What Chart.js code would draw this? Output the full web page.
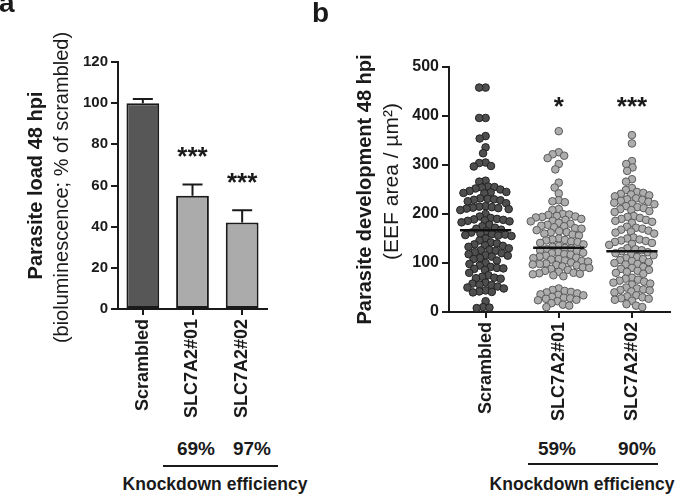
<!DOCTYPE html>
<html>
<head>
<meta charset="utf-8">
<script src="https://cdn.jsdelivr.net/npm/chart.js@4.4.0/dist/chart.umd.min.js"></script>
<style>
  body { margin: 0; background: #fff; width: 675px; height: 496px; position: relative; overflow: hidden;
         font-family: "Liberation Sans", Arial, sans-serif; color: #1a1a1a; }
  .lbl { position: absolute; font-weight: bold; white-space: nowrap; line-height: 1; }
  .mid { transform: translateX(-50%); }
  .rule { position: absolute; height: 2px; background: #1a1a1a; }
  canvas { position: absolute; top: 0; }
</style>
</head>
<body>
<canvas id="loadChart" width="300" height="430" style="left:0"></canvas>
<canvas id="devChart" width="345" height="430" style="left:330px"></canvas>

<div class="lbl" style="left:-1px; top:-11px; font-size:28px">a</div>
<div class="lbl" style="left:312px; top:-1px; font-size:28px">b</div>

<div class="lbl mid" style="left:196px; top:439px; font-size:19px">69%</div>
<div class="lbl mid" style="left:252px; top:439px; font-size:19px">97%</div>
<div class="rule" style="left:163px; top:465px; width:115px"></div>
<div class="lbl mid" style="left:215px; top:476px; font-size:17.5px">Knockdown efficiency</div>

<div class="lbl mid" style="left:557px; top:439px; font-size:19px">59%</div>
<div class="lbl mid" style="left:637px; top:439px; font-size:19px">90%</div>
<div class="rule" style="left:528px; top:463px; width:130px"></div>
<div class="lbl mid" style="left:582px; top:476px; font-size:17.5px">Knockdown efficiency</div>

<script>
// panel a: parasite load (% of scrambled)
const groups = ['Scrambled', 'SLC7A2#01', 'SLC7A2#02'];
const loadMeans = [100, 55, 42];
const loadErrors = [2, 5.5, 6];
const loadStars = ['', '***', '***'];

// panel b: EEF area per parasite (µm²)
const devScrambled = [
    458, 458, 396, 396, 359, 354, 336, 324, 305, 304, 298, 297, 268, 266, 256, 255, 254, 252, 250, 247,
    245, 244, 243, 242, 232, 231, 230, 229, 228, 226, 222, 216, 215, 214, 213, 212, 211, 210, 208, 200,
    195, 192, 190, 189, 188, 187, 186, 185, 183, 178, 175, 172, 170, 168, 165, 162, 160, 159, 158, 157,
    156, 155, 150, 146, 142, 140, 138, 136, 135, 133, 130, 127, 126, 125, 122, 120, 118, 116, 115, 113,
    110, 108, 105, 100, 98, 95, 92, 90, 89, 88, 86, 80, 75, 72, 70, 69, 68, 60, 58, 56, 55, 52, 50, 48,
    44, 42, 41, 40, 22, 10, 9, 8
];
const devSlc01 = [
    369, 326, 322, 319, 314, 302, 291, 264, 254, 242, 228, 226, 224, 210, 208,
    200, 199, 198, 196, 195, 194, 193, 190, 188, 186, 185,
    182, 180, 178, 176, 175, 173, 171, 170,
    167, 165, 163, 162, 160, 158, 156,
    150, 148, 147, 146, 144, 143, 141, 138,
    135, 133, 131, 130, 128, 126, 124, 122, 121, 120, 118, 117,
    115, 113, 111, 110, 108, 107, 105, 104, 103,
    101, 99, 98, 97, 96, 95, 93, 91, 90,
    88, 86, 84, 82, 80, 79, 78, 77, 75, 73,
    48, 45, 43, 41, 40, 38, 36, 35,
    34, 31, 29, 28, 27, 25, 24, 22,
    18, 15, 13, 10
];
const devSlc02 = [
    361, 344, 308, 302, 295, 288, 271, 266, 253, 249,
    245, 243, 241, 240, 238, 236,
    232, 230, 229, 227, 225, 223, 221, 220,
    216, 214, 212, 210, 208, 206, 204,
    196, 194, 192, 190, 188, 186, 184, 182,
    174, 172, 170, 168, 166, 164, 162, 160,
    152, 150, 148, 146, 145, 143, 141, 139, 137,
    130, 128, 126, 124, 122, 120, 118, 116,
    112, 110, 108, 106, 104, 102, 100, 98, 97,
    92, 90, 88, 86, 84, 82, 80, 78,
    70, 68, 66, 64, 62, 60, 58, 56,
    50, 48, 46, 45, 44, 42, 40,
    34, 32, 30, 28, 27, 25, 23,
    16, 13, 10
];
const devMeans = [167, 131, 124];
const devStars = ['', '*', '***'];

const ink = '#1a1a1a';
const family = '"Liberation Sans", Arial, sans-serif';
Chart.defaults.font.family = family;
Chart.defaults.font.weight = 'bold';
Chart.defaults.color = ink;

// rotated y axis titles, bold line + normal line
const axisTitles = {
    id: 'axisTitles',
    afterDraw(chart, args, opts) {
        const ctx = chart.ctx;
        const area = chart.chartArea;
        const cy = (area.top + area.bottom) / 2;
        ctx.save();
        ctx.fillStyle = ink;
        ctx.textAlign = 'center';
        ctx.textBaseline = 'middle';
        opts.lines.forEach(function(l) {
            ctx.save();
            ctx.translate(l.x, cy + (l.dy || 0));
            ctx.rotate(-Math.PI / 2);
            ctx.font = l.font;
            ctx.fillText(l.text, 0, 0);
            ctx.restore();
        });
        ctx.restore();
    }
};

function drawStars(chart, stars, yFor) {
    const ctx = chart.ctx;
    ctx.save();
    ctx.fillStyle = ink;
    ctx.textAlign = 'center';
    ctx.textBaseline = 'alphabetic';
    ctx.font = 'bold 26px ' + family;
    stars.forEach(function(s, i) {
        if (!s) return;
        ctx.fillText(s, chart.scales.x.getPixelForValue(i), yFor(i) + 15);
    });
    ctx.restore();
}

// upper whiskers + significance stars for the bar chart
const errorBars = {
    id: 'errorBars',
    afterDatasetsDraw(chart) {
        const ctx = chart.ctx;
        const x = chart.scales.x, y = chart.scales.y;
        ctx.save();
        ctx.strokeStyle = ink;
        ctx.lineWidth = 2;
        loadMeans.forEach(function(m, i) {
            const px = x.getPixelForValue(i);
            const top = y.getPixelForValue(m + loadErrors[i]);
            ctx.beginPath();
            ctx.moveTo(px, y.getPixelForValue(m));
            ctx.lineTo(px, top);
            ctx.moveTo(px - 10, top);
            ctx.lineTo(px + 10, top);
            ctx.stroke();
        });
        ctx.restore();
        drawStars(chart, loadStars, function(i) {
            return y.getPixelForValue(loadMeans[i] + loadErrors[i]) - 34;
        });
    }
};

const devStarsPlugin = {
    id: 'devStars',
    afterDatasetsDraw(chart) {
        drawStars(chart, devStars, function() { return chart.scales.y.getPixelForValue(432); });
    }
};

function axisStyle() {
    return {
        grid: { drawOnChartArea: false, drawTicks: true, tickLength: 7, color: ink, lineWidth: 2 },
        border: { display: true, color: ink, width: 2 }
    };
}

new Chart(document.getElementById('loadChart'), {
    type: 'bar',
    data: {
        labels: groups,
        datasets: [{
            data: loadMeans,
            backgroundColor: ['#575757', '#ababab', '#ababab'],
            borderColor: ink,
            borderWidth: 2,
            borderSkipped: false,
            barPercentage: 0.66,
            categoryPercentage: 1
        }]
    },
    options: {
        responsive: false,
        animation: false,
        layout: { padding: { top: 62, right: 33, left: 0, bottom: 0 } },
        plugins: {
            legend: { display: false },
            tooltip: { enabled: false },
            axisTitles: {
                lines: [
                    { text: 'Parasite load 48 hpi', x: 36, font: 'bold 20px ' + family },
                    { text: '(bioluminescence; % of scrambled)', x: 62, dy: 2, font: 'normal 20px ' + family }
                ]
            }
        },
        scales: {
            y: Object.assign(axisStyle(), {
                min: 0,
                max: 120,
                ticks: { stepSize: 20, padding: 3, font: { family: family, size: 15, weight: 'bold' } },
                afterFit: function(s) { s.width = 118; }
            }),
            x: Object.assign(axisStyle(), {
                grid: { offset: false, drawOnChartArea: false, tickLength: 6, color: ink, lineWidth: 2 },
                ticks: { minRotation: 90, maxRotation: 90, autoSkip: false, padding: 4,
                         font: { family: family, size: 18, weight: 'bold' } },
                afterFit: function(s) { s.height = 121; }
            })
        }
    },
    plugins: [axisTitles, errorBars]
});

// beeswarm layout in pixel space: nearest free spot to the group centre
function swarm(values, yScale, sep) {
    const order = values.map(function(v, i) { return i; }).sort(function(a, b) { return values[b] - values[a]; });
    const placed = [];
    const xs = new Array(values.length);
    order.forEach(function(i) {
        const py = yScale.getPixelForValue(values[i]);
        const blocked = [];
        placed.forEach(function(p) {
            const dy = Math.abs(p.y - py);
            if (dy < sep) {
                const dx = Math.sqrt(sep * sep - dy * dy);
                blocked.push([p.x - dx, p.x + dx]);
            }
        });
        const cands = [0];
        blocked.forEach(function(b) { cands.push(b[0], b[1]); });
        cands.sort(function(a, b) { return Math.abs(a) - Math.abs(b); });
        const px = cands.find(function(c) {
            return blocked.every(function(b) { return c <= b[0] + 1e-6 || c >= b[1] - 1e-6; });
        });
        xs[i] = px;
        placed.push({ x: px, y: py });
    });
    return xs;
}

const devSeries = [devScrambled, devSlc01, devSlc02];
const dotFill = ['#4f4f4f', '#adadad', '#adadad'];
const dotEdge = ['#222222', '#5a5a5a', '#5a5a5a'];

const meanSets = devMeans.map(function(m, i) {
    return {
        type: 'line',
        data: [{ x: i - 0.35, y: m }, { x: i + 0.35, y: m }],
        borderColor: '#111',
        borderWidth: 2.5,
        pointRadius: 0
    };
});
const dotSets = devSeries.map(function(vals, i) {
    return {
        type: 'scatter',
        data: vals.map(function(v) { return { x: i, y: v }; }),
        backgroundColor: dotFill[i],
        borderColor: dotEdge[i],
        borderWidth: 1,
        pointRadius: 3.8
    };
});

const devChart = new Chart(document.getElementById('devChart'), {
    type: 'scatter',
    data: { datasets: meanSets.concat(dotSets) },
    options: {
        responsive: false,
        animation: false,
        layout: { padding: { top: 67, right: 5, left: 0, bottom: 0 } },
        plugins: {
            legend: { display: false },
            tooltip: { enabled: false },
            axisTitles: {
                lines: [
                    { text: 'Parasite development 48 hpi', x: 35, font: 'bold 20px ' + family },
                    { text: '(EEF area / µm²)', x: 62, dy: -8, font: 'normal 21px ' + family }
                ]
            }
        },
        scales: {
            y: Object.assign(axisStyle(), {
                min: 0,
                max: 500,
                ticks: { stepSize: 100, padding: 3, font: { family: family, size: 16, weight: 'bold' } },
                afterFit: function(s) { s.width = 119; }
            }),
            x: Object.assign(axisStyle(), {
                type: 'linear',
                min: -0.5,
                max: 2.52,
                grid: { drawOnChartArea: false, tickLength: 6, color: ink, lineWidth: 2 },
                afterBuildTicks: function(s) { s.ticks = [0, 1, 2].map(function(v) { return { value: v }; }); },
                ticks: {
                    minRotation: 90, maxRotation: 90, autoSkip: false, padding: 4,
                    font: { family: family, size: 18, weight: 'bold' },
                    callback: function(v) { return groups[Math.round(v)]; }
                },
                afterFit: function(s) { s.height = 118; }
            })
        }
    },
    plugins: [axisTitles, devStarsPlugin]
});

// second pass: spread the dots once the scales are known
const unit = devChart.scales.x.getPixelForValue(1) - devChart.scales.x.getPixelForValue(0);
devSeries.forEach(function(vals, i) {
    const offs = swarm(vals, devChart.scales.y, 6.4);
    devChart.data.datasets[meanSets.length + i].data = vals.map(function(v, k) {
        return { x: i + offs[k] / unit, y: v };
    });
});
devChart.update('none');
</script>
</body>
</html>
